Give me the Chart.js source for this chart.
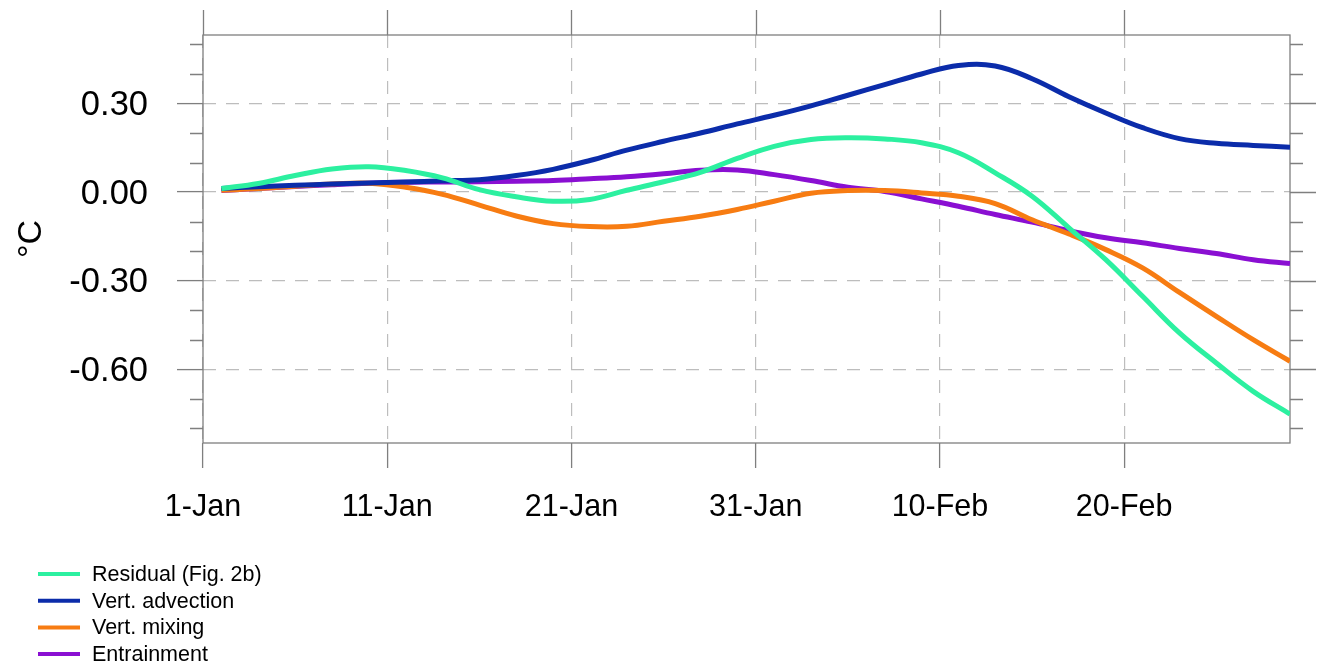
<!DOCTYPE html>
<html lang="en">
<head>
<meta charset="UTF-8">
<title>Mixed layer temperature budget</title>
<script src="https://cdn.jsdelivr.net/npm/chart.js@4.4.1/dist/chart.umd.min.js"></script>
<style>
    html, body { margin: 0; padding: 0; background: #fff; }
    canvas { display: block; }
</style>
</head>
<body>
<canvas id="budgetChart" width="1317" height="668"></canvas>
<script>
// days since 1-Jan
const days = [1, 3, 5, 7, 9, 11, 13, 15, 17, 19, 21, 23, 25, 27, 29, 31, 33, 35, 37, 39, 41, 43, 45, 47, 49, 51, 53, 55, 57, 59];

// cumulative terms (degC)
const residual = [0.012, 0.029, 0.056, 0.078, 0.086, 0.073, 0.048, 0.008, -0.016, -0.031, -0.025, 0.006, 0.035, 0.067, 0.114, 0.155, 0.178, 0.184, 0.180, 0.167, 0.133, 0.065, -0.014, -0.121, -0.229, -0.353, -0.477, -0.579, -0.675, -0.752];
const vertAdvection = [0.012, 0.018, 0.023, 0.027, 0.031, 0.034, 0.038, 0.042, 0.056, 0.077, 0.107, 0.142, 0.172, 0.200, 0.231, 0.260, 0.292, 0.328, 0.364, 0.400, 0.429, 0.427, 0.384, 0.323, 0.268, 0.218, 0.181, 0.165, 0.158, 0.152];
const vertMixing = [0.006, 0.012, 0.020, 0.027, 0.030, 0.016, -0.008, -0.044, -0.081, -0.107, -0.117, -0.116, -0.099, -0.082, -0.059, -0.031, -0.004, 0.005, 0.005, -0.003, -0.014, -0.039, -0.094, -0.142, -0.195, -0.257, -0.340, -0.421, -0.500, -0.573];
const entrainment = [0.005, 0.012, 0.019, 0.025, 0.030, 0.033, 0.034, 0.035, 0.037, 0.039, 0.045, 0.052, 0.062, 0.074, 0.075, 0.059, 0.039, 0.016, 0.002, -0.023, -0.048, -0.076, -0.102, -0.131, -0.155, -0.172, -0.191, -0.208, -0.229, -0.242];

const seriesNames = ['Residual (Fig. 2b)', 'Vert. advection', 'Vert. mixing', 'Entrainment'];
const seriesColors = ['#2cf0a0', '#0b2caa', '#f77c12', '#8a0fd2'];

// axis ticks
const xTickDays = [0, 10, 20, 30, 40, 50];
const xTickLabels = ['1-Jan', '11-Jan', '21-Jan', '31-Jan', '10-Feb', '20-Feb'];
const yTicks = [-0.6, -0.3, 0, 0.3];
const yMinorTicks = [-0.8, -0.7, -0.5, -0.4, -0.2, -0.1, 0.1, 0.2, 0.4, 0.5];

const FONT = '"Liberation Sans", Arial, Helvetica, sans-serif';
const AXIS_GREY = '#7f7f7f';

// box around the plot, ticks on the top/right sides, minor y ticks, and the legend
const frameTicks = {
    id: 'frameTicks',
    beforeDatasetsDraw(chart) {
        const { ctx, chartArea: a, scales: { x, y } } = chart;
        ctx.save();
        ctx.strokeStyle = AXIS_GREY;
        ctx.lineWidth = 1.3;
        ctx.strokeRect(a.left, a.top, a.right - a.left, a.bottom - a.top);
        ctx.beginPath();
        xTickDays.forEach(d => {
            const px = Math.round(x.getPixelForValue(d)) + 0.5;
            ctx.moveTo(px, a.top - 25);
            ctx.lineTo(px, a.top);
        });
        yTicks.forEach(v => {
            const py = Math.round(y.getPixelForValue(v)) + 0.5;
            ctx.moveTo(a.right, py);
            ctx.lineTo(a.right + 26, py);
        });
        yMinorTicks.forEach(v => {
            const py = Math.round(y.getPixelForValue(v)) + 0.5;
            ctx.moveTo(a.left - 13, py);
            ctx.lineTo(a.left, py);
            ctx.moveTo(a.right, py);
            ctx.lineTo(a.right + 13, py);
        });
        ctx.stroke();
        ctx.restore();
    },
    afterDraw(chart) {
        const ctx = chart.ctx;
        ctx.save();
        ctx.font = '21.5px ' + FONT;
        ctx.textBaseline = 'middle';
        ctx.fillStyle = '#000';
        ctx.lineWidth = 4;
        chart.data.datasets.forEach((ds, i) => {
            const ly = 574 + i * 26.7;
            ctx.strokeStyle = ds.borderColor;
            ctx.beginPath();
            ctx.moveTo(38, ly);
            ctx.lineTo(80, ly);
            ctx.stroke();
            ctx.fillText(ds.label, 92, ly + 1);
        });
        ctx.restore();
    }
};

document.addEventListener("DOMContentLoaded", () => {
    const ctx = document.getElementById('budgetChart').getContext('2d');
    const series = [residual, vertAdvection, vertMixing, entrainment];

    new Chart(ctx, {
        type: 'line',
        data: {
            datasets: series.map((vals, i) => ({
                label: seriesNames[i],
                data: days.map((d, j) => ({ x: d, y: vals[j] })),
                borderColor: seriesColors[i],
                backgroundColor: seriesColors[i],
                borderWidth: 5,
                pointRadius: 0,
                tension: 0.4,
                fill: false
            }))
        },
        options: {
            responsive: false,
            animation: false,
            devicePixelRatio: 1,
            layout: { padding: { top: 35, right: 27, left: 0, bottom: 0 } },
            plugins: {
                legend: { display: false },
                tooltip: { enabled: false }
            },
            scales: {
                x: {
                    type: 'linear',
                    min: 0,
                    max: 59,
                    afterBuildTicks: scale => { scale.ticks = xTickDays.map(v => ({ value: v })); },
                    afterFit: scale => { scale.height = 225; },
                    ticks: {
                        autoSkip: false,
                        maxRotation: 0,
                        padding: 21,
                        color: '#000',
                        font: { family: FONT, size: 30.5 },
                        callback: v => xTickLabels[xTickDays.indexOf(v)] ?? ''
                    },
                    grid: {
                        color: '#bdbdbd',
                        lineWidth: 1.2,
                        tickLength: 25,
                        tickColor: AXIS_GREY,
                        tickWidth: 1.3
                    },
                    border: { display: false, dash: [13, 10] }
                },
                y: {
                    min: -0.85,
                    max: 0.532,
                    afterBuildTicks: scale => { scale.ticks = yTicks.map(v => ({ value: v })); },
                    afterFit: scale => {
                        // fixed axis width; labels never sit at the plot edges
                        scale.width = 203;
                        scale.paddingTop = 0;
                        scale.paddingBottom = 0;
                    },
                    ticks: {
                        padding: 29,
                        labelOffset: 2,
                        color: '#000',
                        font: { family: FONT, size: 34.5 },
                        callback: v => v.toFixed(2)
                    },
                    grid: {
                        color: '#bdbdbd',
                        lineWidth: 1.2,
                        tickLength: 26,
                        tickColor: AXIS_GREY,
                        tickWidth: 1.3
                    },
                    border: { display: false, dash: [13, 10] },
                    title: {
                        display: true,
                        text: '°C',
                        color: '#000',
                        font: { family: FONT, size: 34 },
                        padding: { top: 11, bottom: 0 }
                    }
                }
            }
        },
        plugins: [frameTicks]
    });
});
</script>
</body>
</html>
